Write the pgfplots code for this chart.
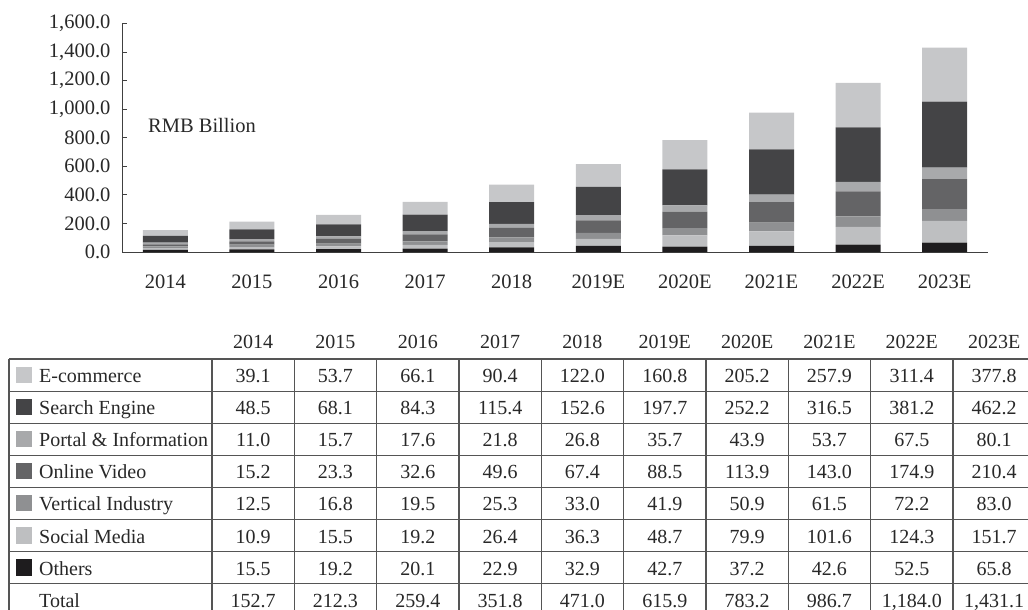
\documentclass[border=0pt]{standalone}
\usepackage{pgfplots}
\pgfplotsset{compat=1.18}
\usepackage{fontspec}
\setmainfont{Liberation Serif}
\definecolor{cEcom}{RGB}{198,199,201}
\definecolor{cSearch}{RGB}{68,68,70}
\definecolor{cPortal}{RGB}{168,169,171}
\definecolor{cVideo}{RGB}{100,100,102}
\definecolor{cVert}{RGB}{143,144,146}
\definecolor{cSocial}{RGB}{190,191,193}
\definecolor{cOther}{RGB}{30,28,30}
\definecolor{txt}{RGB}{40,40,40}
\definecolor{grid}{RGB}{85,85,85}
\pgfplotstableread{
x others social vert video portal search ecom
0 15.5 10.9 12.5 15.2 11.0 48.5 39.1
1 19.2 15.5 16.8 23.3 15.7 68.1 53.7
2 20.1 19.2 19.5 32.6 17.6 84.3 66.1
3 22.9 26.4 25.3 49.6 21.8 115.4 90.4
4 32.9 36.3 33.0 67.4 26.8 152.6 122.0
5 42.7 48.7 41.9 88.5 35.7 197.7 160.8
6 37.2 79.9 50.9 113.9 43.9 252.2 205.2
7 42.6 101.6 61.5 143.0 53.7 316.5 257.9
8 52.5 124.3 72.2 174.9 67.5 381.2 311.4
9 65.8 151.7 83.0 210.4 80.1 462.2 377.8
}\datatable
\begin{document}
\begin{tikzpicture}[font=\fontsize{20}{24}\selectfont]
\path[use as bounding box] (0pt,0pt) rectangle (1028pt,-610pt);
\clip (0pt,0pt) rectangle (1028pt,-610pt);
\begin{axis}[
  at={(122pt,-252pt)}, anchor=south west,
  scale only axis, width=866pt, height=228.5pt,
  xmin=-0.5, xmax=9.5, ymin=0, ymax=1600,
  axis x line*=bottom, axis y line*=left,
  axis line style={draw=black!75, line width=1pt},
  ybar stacked, bar width=45pt,
  xtick={0,...,9},
  xticklabels={2014,2015,2016,2017,2018,2019E,2020E,2021E,2022E,2023E},
  xtick style={draw=none},
  ytick={0,200,...,1600},
  ytick style={draw=black!75, line width=1pt},
  tick align=inside, major tick length=5pt,
  tick label style={font=\fontsize{20.5}{24}\selectfont, text=txt},
  xticklabel style={yshift=-19pt},
  yticklabel style={xshift=-8pt},
  /pgf/number format/assume math mode=true,
  yticklabel={\pgfmathprintnumber[fixed,fixed zerofill,precision=1,1000 sep={,}]{\tick}},
  clip=false,
]
\addplot[fill=cOther, draw=none] table[x=x,y=others]{\datatable};
\addplot[fill=cSocial, draw=none] table[x=x,y=social]{\datatable};
\addplot[fill=cVert, draw=none] table[x=x,y=vert]{\datatable};
\addplot[fill=cVideo, draw=none] table[x=x,y=video]{\datatable};
\addplot[fill=cPortal, draw=none] table[x=x,y=portal]{\datatable};
\addplot[fill=cSearch, draw=none] table[x=x,y=search]{\datatable};
\addplot[fill=cEcom, draw=none] table[x=x,y=ecom]{\datatable};
\node[anchor=west, text=txt, inner sep=0pt, font=\fontsize{20.5}{24}\selectfont] at (axis cs:-0.2,884) {RMB Billion};
\end{axis}
\begin{scope}[x=1pt, y=-1pt]
  % header
  \foreach \h [count=\c] in {2014,2015,2016,2017,2018,2019E,2020E,2021E,2022E,2023E}{
    \node[anchor=base, inner sep=0pt, text=txt] at ({212+82.33*(\c-0.5)},348) {\h};
  }
  % grid
  \foreach \r in {0,...,8}{
    \draw[grid, line width=1.2pt] (9,{359+32.1*\r}) -- (1036,{359+32.1*\r});
  }
  \draw[grid, line width=1.2pt] (9,359) -- (9,620);
  \foreach \c in {0,...,10}{
    \draw[grid, line width=1.2pt] ({212+82.33*\c},359) -- ({212+82.33*\c},620);
  }
  % rows
  \foreach \name/\col/\vals [count=\r] in {
    E-commerce/cEcom/{39.1,53.7,66.1,90.4,122.0,160.8,205.2,257.9,311.4,377.8},
    Search Engine/cSearch/{48.5,68.1,84.3,115.4,152.6,197.7,252.2,316.5,381.2,462.2},
    Portal \& Information/cPortal/{11.0,15.7,17.6,21.8,26.8,35.7,43.9,53.7,67.5,80.1},
    Online Video/cVideo/{15.2,23.3,32.6,49.6,67.4,88.5,113.9,143.0,174.9,210.4},
    Vertical Industry/cVert/{12.5,16.8,19.5,25.3,33.0,41.9,50.9,61.5,72.2,83.0},
    Social Media/cSocial/{10.9,15.5,19.2,26.4,36.3,48.7,79.9,101.6,124.3,151.7},
    Others/cOther/{15.5,19.2,20.1,22.9,32.9,42.7,37.2,42.6,52.5,65.8}}{
    \pgfmathsetmacro{\yc}{359+32.1*(\r-0.5)}
    \fill[\col] (15.5,{\yc-8.5}) rectangle (32,{\yc+8});
    \node[anchor=base west, inner sep=0pt, text=txt] at (39,{\yc+7.5}) {\name};
    \foreach \v [count=\c] in \vals {
      \node[anchor=base, inner sep=0pt, text=txt] at ({212+82.33*(\c-0.5)},{\yc+7.5}) {\v};
    }
  }
  \pgfmathsetmacro{\yt}{359+32.1*7.5}
  \node[anchor=base west, inner sep=0pt, text=txt] at (39,{\yt+7.5}) {Total};
  \foreach \v [count=\c] in {152.7,212.3,259.4,351.8,471.0,615.9,783.2,986.7,{1,184.0},{1,431.1}}{
    \node[anchor=base, inner sep=0pt, text=txt] at ({212+82.33*(\c-0.5)},{\yt+7.5}) {\v};
  }
\end{scope}
\end{tikzpicture}
\end{document}
